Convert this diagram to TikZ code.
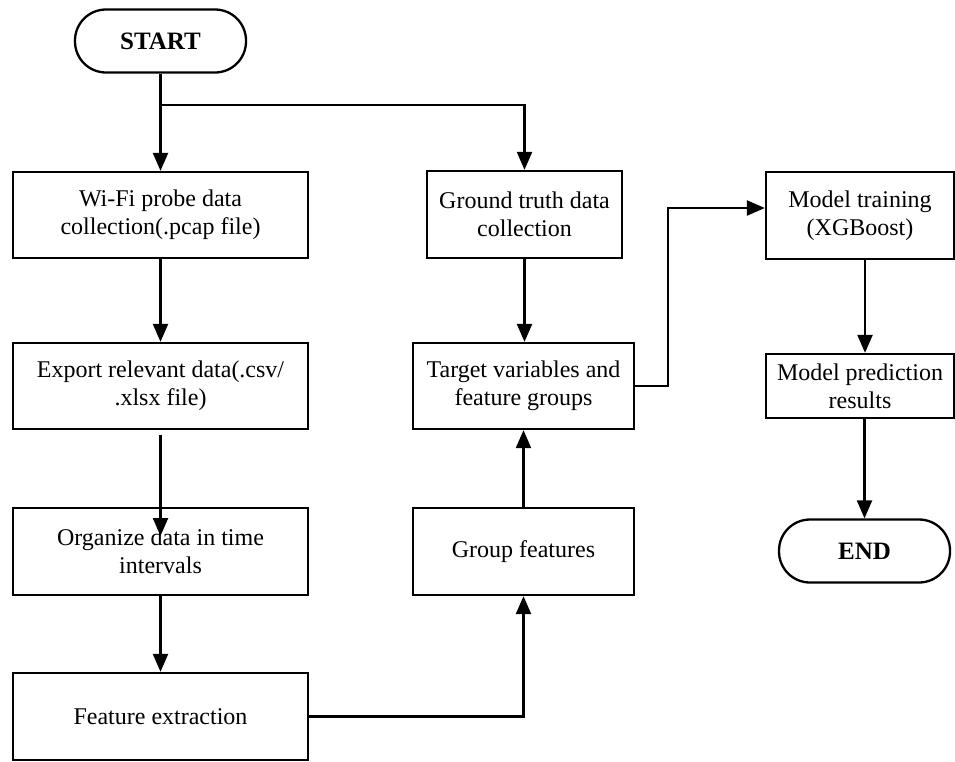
\documentclass[tikz,border=0pt]{standalone}
\usepackage{fontspec}
\setmainfont{Liberation Serif}
\usetikzlibrary{arrows.meta}
\begin{document}
\begin{tikzpicture}[x=1pt,y=-1pt,
  every node/.style={font=\fontsize{24pt}{28pt}\selectfont, align=center, inner sep=0pt},
  box/.style={draw, line width=2.3pt, minimum width=#1, minimum height=86pt},
  term/.style={draw, line width=2.3pt, rounded corners=31pt, minimum width=171pt, minimum height=63pt,
    font=\fontsize{25pt}{29pt}\selectfont\bfseries},
  conn/.style={line width=2.3pt, -{Triangle[length=18pt,width=15pt]}},
  line/.style={line width=2.3pt}]
\useasboundingbox (0,0) rectangle (955,761);
% left column
\node[term] (start) at (160.5,41) {START};
\node[box=295pt] (wifi) at (160.5,215) {Wi-Fi probe data\\collection(.pcap file)};
\node[box=295pt] (export) at (160.5,386) {Export relevant data(.csv/\\.xlsx file)};
\node[box=295pt, minimum height=87pt] (organize) at (160.5,551.5) {Organize data in time\\intervals};
\node[box=295pt, minimum height=87pt] (feat) at (160.5,716.5) {Feature extraction};
% middle column
\node[box=195pt, minimum height=87pt] (ground) at (524.5,214.5) {Ground truth data\\collection};
\node[box=221pt] (target) at (523.5,386) {Target variables and\\feature groups};
\node[box=221pt, minimum height=87pt] (group) at (523.5,551.5) {Group features};
% right column
\node[box=188pt, minimum height=87pt] (train) at (860,215.5) {Model training\\(XGBoost)};
\node[box=188pt, minimum height=64pt] (pred) at (860,386) {Model prediction\\results};
\node[term] (end) at (864.5,551) {END};
% coordinates
\coordinate (branch) at (160.5,105);
\coordinate (exportout) at (160.5,435);
\coordinate (organizein) at (160.5,536);
% connectors
\draw[conn] (start.south) -- (wifi.north);
\draw[conn] (branch) -| (ground.north);
\draw[conn] (wifi.south) -- (export.north);
\draw[conn] (exportout) -- (organizein);
\draw[conn] (organize.south) -- (feat.north);
\draw[conn] (feat.east) -| (group.south);
\draw[conn] (group.north) -- (target.south);
\draw[conn] (ground.south) -- (ground.south |- target.north);
\draw[conn] (target.east) -- ++(33,0) |- ([yshift=7.5pt]train.west);
\draw[conn] ([xshift=5pt]train.south) -- ([xshift=5pt]pred.north);
\draw[conn] (pred.south -| end.north) -- (end.north);
\end{tikzpicture}
\end{document}
